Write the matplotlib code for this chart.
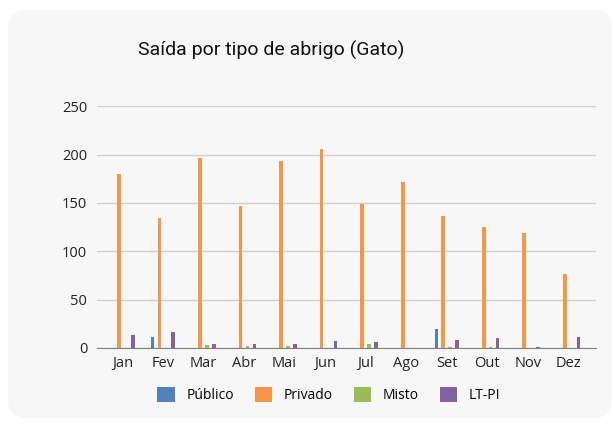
import matplotlib
matplotlib.use('Agg')
import matplotlib.pyplot as plt
from matplotlib.patches import FancyBboxPatch
import numpy as np

# Données
meses = ['Jan', 'Fev', 'Mar', 'Abr', 'Mai', 'Jun', 'Jul', 'Ago', 'Set', 'Out', 'Nov', 'Dez']
publico = [0, 11, 0, 0, 0, 0, 0, 0, 20, 0, 0, 0]
privado = [180, 134, 196, 147, 193, 206, 149, 172, 136, 125, 119, 76]
misto = [0, 0, 3, 2, 2, 0, 4, 0, 1, 1, 0, 0]
ltpi = [13, 17, 4, 4, 4, 7, 6, 0, 8, 10, 1, 11]

series = [('Público', publico, '#4F81BD'),
          ('Privado', privado, '#F79646'),
          ('Misto', misto, '#9BBB59'),
          ('LT-PI', ltpi, '#8064A2')]

fig = plt.figure(figsize=(6.13, 4.28), dpi=100)
fig.patch.set_facecolor('white')

# fond : carte grise aux coins arrondis (coordonnées en pixels)
bg = fig.add_axes([0, 0, 1, 1], zorder=-1)
bg.set_xlim(0, 613)
bg.set_ylim(428, 0)
bg.axis('off')
bg.add_patch(FancyBboxPatch((8, 10), 604, 408,
                            boxstyle='round,pad=0,rounding_size=18',
                            facecolor='#f7f7f7', edgecolor='none'))

ax = fig.add_axes([0.158, 0.187, 0.814, 0.565])
ax.set_facecolor('none')

x = np.arange(len(meses))
off = 0.17
largeur = 0.09
for i, (nom, vals, cor) in enumerate(series):
    ax.bar(x + (i - 1.5) * off, vals, width=largeur, color=cor, label=nom, zorder=3)

ax.set_ylim(0, 250)
ax.set_xlim(-0.63, 11.68)
ax.set_yticks([0, 50, 100, 150, 200, 250])
ax.set_xticks(x)
ax.set_xticklabels(meses)
ax.yaxis.grid(True, color='#d0d0d0', linewidth=1, zorder=0)
for s in ['top', 'right', 'left']:
    ax.spines[s].set_visible(False)
ax.spines['bottom'].set_color('#808080')
ax.tick_params(axis='both', length=0, labelsize=10.5, colors='#222222', pad=6)
for lab in ax.get_xticklabels() + ax.get_yticklabels():
    lab.set_family('Open Sans')
ax.tick_params(axis='y', pad=7)

fig.text(0.442, 0.883, 'Saída por tipo de abrigo (Gato)', ha='center', va='center',
         fontsize=14, family='Roboto', color='#111111')

leg = ax.legend(loc='center', bbox_to_anchor=(0.465, -0.194), ncol=4, frameon=False,
                handlelength=1.25, handleheight=1.25, columnspacing=1.5, handletextpad=0.85,
                prop={'family': 'Open Sans', 'size': 10})

fig.savefig('out.png', dpi=100)
